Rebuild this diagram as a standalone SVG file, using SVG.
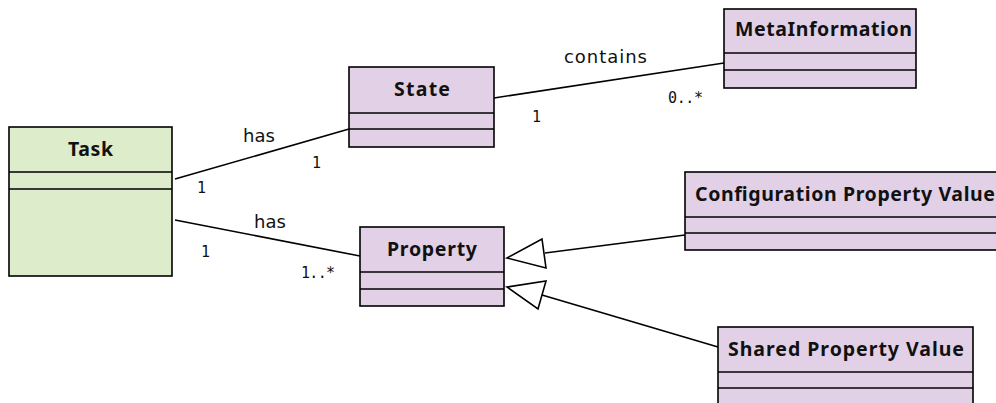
<svg xmlns="http://www.w3.org/2000/svg" width="996" height="403" viewBox="0 0 996 403">
<style>
.box{stroke:#000;stroke-width:1.6}
.green{fill:#ddeccb}
.purple{fill:#e2d1e6}
.div{stroke:#000;stroke-width:1.6;fill:none}
.title{font-family:"Noto Sans","DejaVu Sans",sans-serif;font-weight:bold;font-size:19.5px;fill:#111}
.lbl{font-family:"DejaVu Sans",sans-serif;font-size:18px;fill:#111}
.mult{font-family:"DejaVu Sans Mono",monospace;font-size:15px;fill:#111}
.edge{stroke:#000;stroke-width:1.6;fill:none}
.tri{stroke:#000;stroke-width:1.6;fill:#fff}
</style>
<rect width="996" height="403" fill="#fff"/>
<g id="connectors">
<line class="edge" x1="175" y1="179" x2="349" y2="129"/>
<line class="edge" x1="175" y1="220" x2="360" y2="256"/>
<line class="edge" x1="494" y1="98" x2="724" y2="63"/>
<line class="edge" x1="545" y1="253" x2="685" y2="235"/>
<polygon class="tri" points="507,258 542,239 546,268"/>
<line class="edge" x1="542" y1="295" x2="718" y2="347"/>
<polygon class="tri" points="507,287 546,281 538,309"/>
<text class="lbl" x="243" y="142">has</text>
<text class="lbl" x="254" y="228">has</text>
<text class="lbl" x="564" y="63" textLength="83">contains</text>
<text class="mult" x="197" y="193">1</text>
<text class="mult" x="312" y="168">1</text>
<text class="mult" x="201" y="257">1</text>
<text class="mult" x="301" y="278" textLength="34">1..*</text>
<text class="mult" x="532" y="122">1</text>
<text class="mult" x="668" y="103" textLength="35">0..*</text>
</g>
<g id="task">
<rect class="box green" x="9" y="127" width="163" height="149"/>
<line class="div" x1="9" y1="172" x2="172" y2="172"/>
<line class="div" x1="9" y1="189" x2="172" y2="189"/>
<text class="title" x="68" y="156" textLength="45">Task</text>
</g>
<g id="state">
<rect class="box purple" x="349" y="67" width="145" height="80"/>
<line class="div" x1="349" y1="113" x2="494" y2="113"/>
<line class="div" x1="349" y1="129" x2="494" y2="129"/>
<text class="title" x="394" y="96" textLength="56">State</text>
</g>
<g id="metainformation">
<rect class="box purple" x="724" y="9" width="192" height="79"/>
<line class="div" x1="724" y1="53" x2="916" y2="53"/>
<line class="div" x1="724" y1="70" x2="916" y2="70"/>
<text class="title" x="735" y="36" textLength="177">MetaInformation</text>
</g>
<g id="property">
<rect class="box purple" x="360" y="227" width="144" height="79"/>
<line class="div" x1="360" y1="272" x2="504" y2="272"/>
<line class="div" x1="360" y1="289" x2="504" y2="289"/>
<text class="title" x="387" y="256" textLength="90">Property</text>
</g>
<g id="configuration-property-value">
<rect class="box purple" x="685" y="172" width="330" height="78"/>
<line class="div" x1="685" y1="217" x2="1015" y2="217"/>
<line class="div" x1="685" y1="233" x2="1015" y2="233"/>
<text class="title" x="695" y="201" textLength="300">Configuration Property Value</text>
</g>
<g id="shared-property-value">
<rect class="box purple" x="718" y="327" width="255" height="90"/>
<line class="div" x1="718" y1="372" x2="973" y2="372"/>
<line class="div" x1="718" y1="388" x2="973" y2="388"/>
<text class="title" x="728" y="356" textLength="236">Shared Property Value</text>
</g>
</svg>
